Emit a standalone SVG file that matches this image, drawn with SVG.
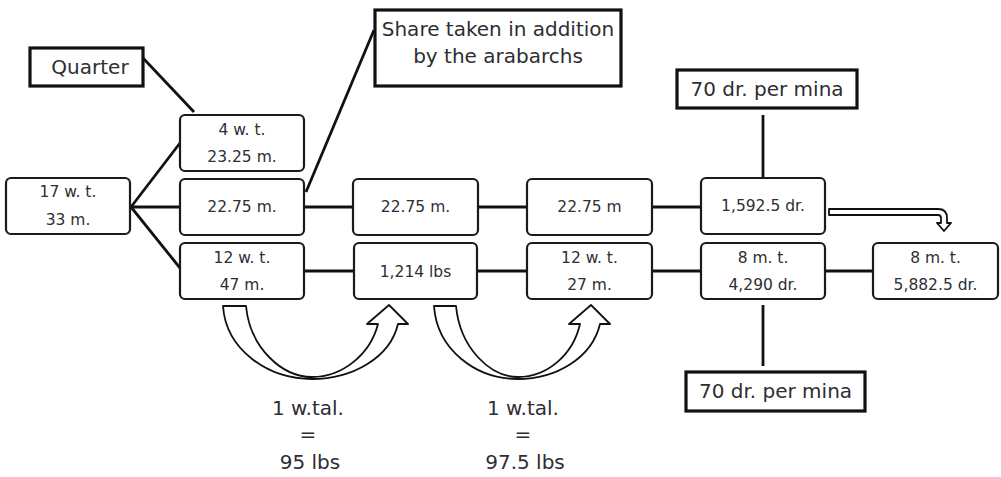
<svg xmlns="http://www.w3.org/2000/svg" width="1001" height="477" viewBox="0 0 1001 477">
<style>
text{font-family:"DejaVu Sans","Liberation Sans",sans-serif;fill:#2e2e33;text-anchor:middle}
.box{fill:#fff;stroke:#1a1a1a;stroke-width:2.2}
.lbl{fill:#fff;stroke:#111;stroke-width:3.2}
.t{font-size:15.5px}
.L{font-size:20px}
.con{stroke:#111;stroke-width:2.8;fill:none}
.arr{fill:#fff;stroke:#111;stroke-width:1.8;stroke-linejoin:round}
</style>
<rect width="1001" height="477" fill="#fff"/>
<g id="connectors">
<line class="con" x1="131" y1="207" x2="180" y2="143"/>
<line class="con" x1="131" y1="207" x2="180" y2="207"/>
<line class="con" x1="131" y1="207" x2="180" y2="268"/>
<line class="con" x1="143" y1="58" x2="194" y2="112"/>
<line class="con" x1="306" y1="192" x2="374" y2="30"/>
<line class="con" x1="304" y1="207" x2="353" y2="207"/>
<line class="con" x1="478" y1="207" x2="527" y2="207"/>
<line class="con" x1="652" y1="207" x2="701" y2="207"/>
<line class="con" x1="304" y1="271" x2="354" y2="271"/>
<line class="con" x1="477" y1="271" x2="527" y2="271"/>
<line class="con" x1="652" y1="271" x2="701" y2="271"/>
<line class="con" x1="825" y1="271" x2="873" y2="271"/>
<line class="con" x1="763" y1="115" x2="763" y2="178"/>
<line class="con" x1="763" y1="305" x2="763" y2="366"/>
<path class="arr" d="M829,209 L938,209 Q947,209 947,218 L947,223 L951,223 L944,231 L937,223 L941,223 L941,218 Q941,215 938,215 L829,215 Z"/>
<path class="arr" d="M223,306 L246,306 C250,348 282,377 312,377 C342,377 370,355 378,324 L367,324 L389,305 L408,324 L398,324 C390,358 352,379 312,379 C268,379 226,350 223,306 Z"/>
<path class="arr" d="M434,306 L456,306 C460,348 490,377 518,377 C547,377 573,355 580,324 L569,324 L591,305 L610,324 L600,324 C592,358 556,379 518,379 C476,379 437,350 434,306 Z"/>
</g>
<g id="n-quarter"><rect class="lbl" x="30" y="48" width="113" height="38"/><text class="L" x="90" y="74">Quarter</text></g>
<g id="n-share"><rect class="lbl" x="375" y="10" width="246" height="76"/><text class="L" x="498" y="36">Share taken in addition</text><text class="L" x="498" y="63">by the arabarchs</text></g>
<g id="n-mina-top"><rect class="lbl" x="677" y="70" width="180" height="38"/><text class="L" x="767" y="96">70 dr. per mina</text></g>
<g id="n-mina-bot"><rect class="lbl" x="686" y="372" width="179" height="39"/><text class="L" x="775.5" y="398">70 dr. per mina</text></g>
<g id="n-17wt"><rect class="box" x="6" y="178" width="124" height="56" rx="5"/><text class="t" x="68" y="197">17 w. t.</text><text class="t" x="68" y="225">33 m.</text></g>
<g id="n-4wt"><rect class="box" x="180" y="115" width="124" height="56" rx="5"/><text class="t" x="242" y="135">4 w. t.</text><text class="t" x="242" y="162">23.25 m.</text></g>
<g id="n-r2c1"><rect class="box" x="180" y="179" width="124" height="56" rx="5"/><text class="t" x="242" y="212">22.75 m.</text></g>
<g id="n-r2c2"><rect class="box" x="353" y="179" width="125" height="56" rx="5"/><text class="t" x="415.5" y="212">22.75 m.</text></g>
<g id="n-r2c3"><rect class="box" x="527" y="179" width="125" height="56" rx="5"/><text class="t" x="589.5" y="212">22.75 m</text></g>
<g id="n-r2c4"><rect class="box" x="701" y="178" width="124" height="56" rx="5"/><text class="t" x="763" y="211">1,592.5 dr.</text></g>
<g id="n-r3c1"><rect class="box" x="180" y="243" width="124" height="56" rx="5"/><text class="t" x="242" y="263">12 w. t.</text><text class="t" x="242" y="290">47 m.</text></g>
<g id="n-r3c2"><rect class="box" x="354" y="243" width="123" height="56" rx="5"/><text class="t" x="415.5" y="277">1,214 lbs</text></g>
<g id="n-r3c3"><rect class="box" x="527" y="243" width="125" height="56" rx="5"/><text class="t" x="589.5" y="263">12 w. t.</text><text class="t" x="589.5" y="290">27 m.</text></g>
<g id="n-r3c4"><rect class="box" x="701" y="243" width="124" height="56" rx="5"/><text class="t" x="763" y="263">8 m. t.</text><text class="t" x="763" y="290">4,290 dr.</text></g>
<g id="n-r3c5"><rect class="box" x="873" y="243" width="125" height="56" rx="5"/><text class="t" x="935.5" y="263">8 m. t.</text><text class="t" x="935.5" y="290">5,882.5 dr.</text></g>
<g id="n-eq1"><text class="L" x="308" y="415">1 w.tal.</text><text class="L" x="308" y="441">=</text><text class="L" x="310" y="469">95 lbs</text></g>
<g id="n-eq2"><text class="L" x="523" y="415">1 w.tal.</text><text class="L" x="523" y="441">=</text><text class="L" x="525" y="469">97.5 lbs</text></g>
</svg>
